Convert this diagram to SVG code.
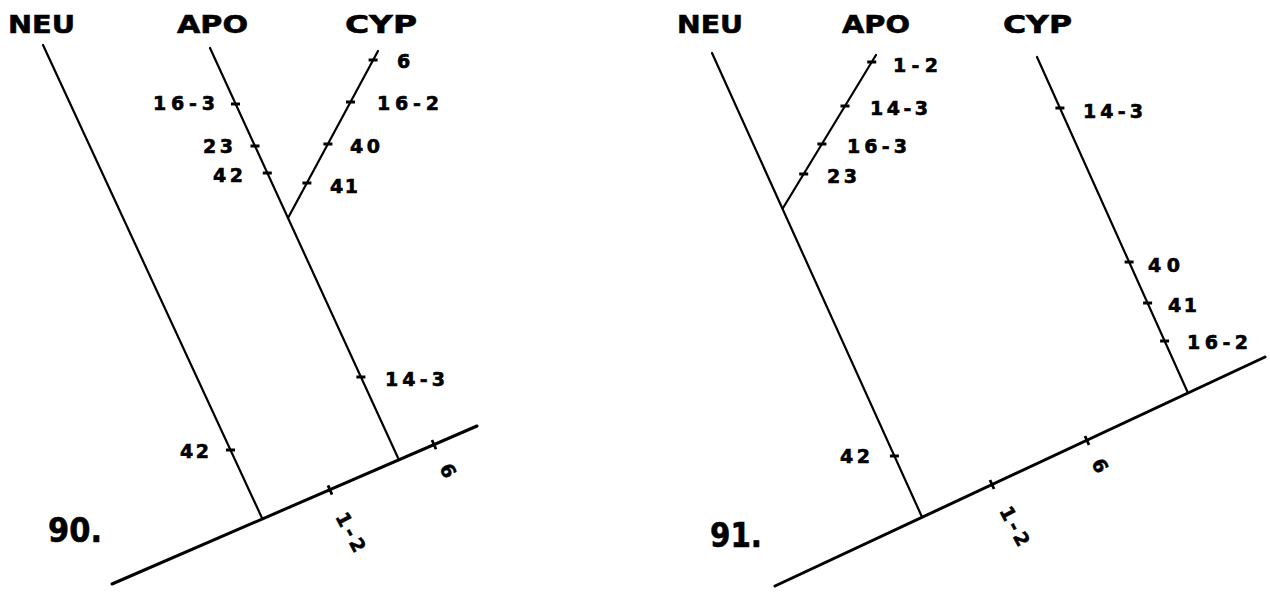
<svg xmlns="http://www.w3.org/2000/svg" width="1270" height="592" viewBox="0 0 1270 592">
<style>
.br{stroke:#000;stroke-width:2.2;fill:none;stroke-linecap:round}
.base{stroke:#000;stroke-width:3;fill:none;stroke-linecap:round}
.tk{stroke:#000;stroke-width:2.8;fill:none}
text{font-family:"DejaVu Sans","Liberation Sans",sans-serif;font-weight:bold;fill:#000;stroke:#000;stroke-width:0.6}
.tx{font-size:25px}
.lb{font-size:19px}
.num{font-size:33px}
</style>
<rect width="1270" height="592" fill="#fff"/>
<g id="connectors">
  <line class="br" x1="43" y1="45" x2="262" y2="518"/>
  <line class="br" x1="210" y1="48" x2="399" y2="460"/>
  <line class="br" x1="288" y1="218" x2="378" y2="51"/>
  <line class="base" x1="112" y1="584" x2="477" y2="426"/>
  <line class="br" x1="712" y1="53" x2="922" y2="517"/>
  <line class="br" x1="783" y1="208" x2="876" y2="55"/>
  <line class="br" x1="1037" y1="57" x2="1188" y2="393"/>
  <line class="base" x1="775" y1="586" x2="1265" y2="357"/>
</g>
<g id="ticks">
  <path class="tk" d="M231 104h9 M250.5 146h9 M262.8 173h9 M356.4 377h9 M368.6 60h9 M346 102h9 M323.4 144h9 M302.4 183h9 M226 450h9"/>
  <path class="tk" d="M328 485.4l4 9.2 M432 440l4 9.2"/>
  <path class="tk" d="M867.2 62h9 M840.5 106h9 M817.4 144h9 M799.2 174h9 M1055.4 108h9 M1124.6 262h9 M1143.1 303h9 M1160.1 341h9 M889.9 456h9"/>
  <path class="tk" d="M990 480l4 9 M1085 436l4 9"/>
</g>
<g id="tree90">
  <text id="neu90" class="tx" x="8" y="33" textLength="67" lengthAdjust="spacingAndGlyphs">NEU</text>
  <text id="apo90" class="tx" x="177" y="33" textLength="71" lengthAdjust="spacingAndGlyphs">APO</text>
  <text id="cyp90" class="tx" x="345" y="33" textLength="72" lengthAdjust="spacingAndGlyphs">CYP</text>
  <text class="lb" x="153" y="110" textLength="62" lengthAdjust="spacing">16-3</text>
  <text class="lb" x="203" y="153" textLength="30" lengthAdjust="spacing">23</text>
  <text class="lb" x="213" y="182" textLength="30" lengthAdjust="spacing">42</text>
  <text class="lb" x="397" y="68">6</text>
  <text class="lb" x="377" y="110" textLength="62" lengthAdjust="spacing">16-2</text>
  <text class="lb" x="350" y="153" textLength="30" lengthAdjust="spacing">40</text>
  <text class="lb" x="330" y="193" textLength="28" lengthAdjust="spacing">41</text>
  <text class="lb" x="385" y="386" textLength="60" lengthAdjust="spacing">14-3</text>
  <text class="lb" x="180" y="458" textLength="29" lengthAdjust="spacing">42</text>
  <text class="lb" transform="translate(351,532) rotate(62)" x="-21" y="7" textLength="42" lengthAdjust="spacing">1-2</text>
  <text class="lb" transform="translate(448,470) rotate(62)" x="-6" y="7">6</text>
  <text class="num" x="48" y="542" textLength="54" lengthAdjust="spacingAndGlyphs">90.</text>
</g>
<g id="tree91">
  <text id="neu91" class="tx" x="677" y="33" textLength="66" lengthAdjust="spacingAndGlyphs">NEU</text>
  <text id="apo91" class="tx" x="842" y="33" textLength="68" lengthAdjust="spacingAndGlyphs">APO</text>
  <text id="cyp91" class="tx" x="1003" y="33" textLength="69" lengthAdjust="spacingAndGlyphs">CYP</text>
  <text class="lb" x="893" y="72" textLength="45" lengthAdjust="spacing">1-2</text>
  <text class="lb" x="870" y="115" textLength="58" lengthAdjust="spacing">14-3</text>
  <text class="lb" x="847" y="153" textLength="60" lengthAdjust="spacing">16-3</text>
  <text class="lb" x="827" y="183" textLength="30" lengthAdjust="spacing">23</text>
  <text class="lb" x="1083" y="118" textLength="60" lengthAdjust="spacing">14-3</text>
  <text class="lb" x="1148" y="272" textLength="32" lengthAdjust="spacing">40</text>
  <text class="lb" x="1168" y="312" textLength="29" lengthAdjust="spacing">41</text>
  <text class="lb" x="1187" y="349" textLength="61" lengthAdjust="spacing">16-2</text>
  <text class="lb" x="840" y="463" textLength="30" lengthAdjust="spacing">42</text>
  <text class="lb" transform="translate(1015,526) rotate(62)" x="-21" y="7" textLength="42" lengthAdjust="spacing">1-2</text>
  <text class="lb" transform="translate(1100,465) rotate(62)" x="-6" y="7">6</text>
  <text class="num" x="710" y="547" textLength="52" lengthAdjust="spacingAndGlyphs">91.</text>
</g>
</svg>
